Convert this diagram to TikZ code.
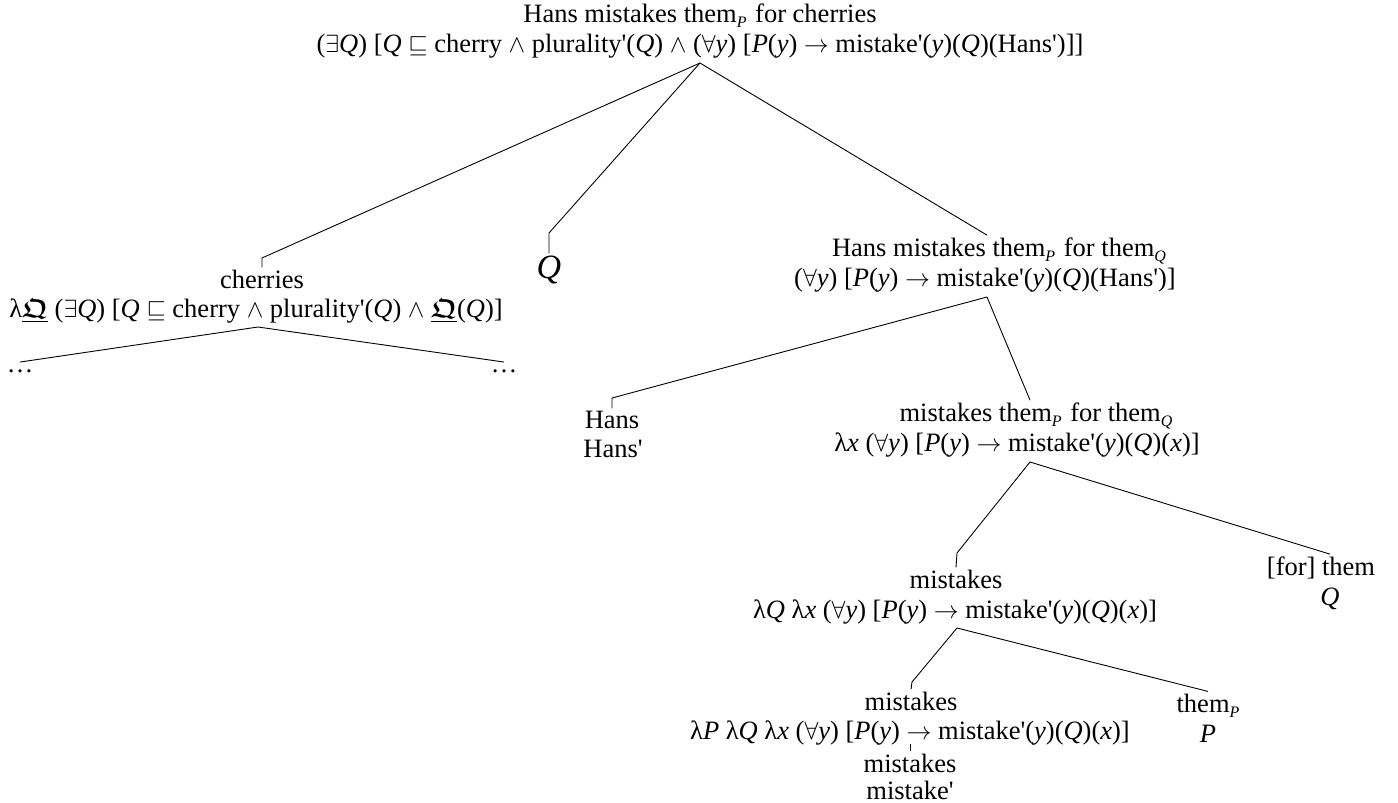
\documentclass[tikz,border=0pt]{standalone}
\usepackage{amsmath,amssymb}
\usepackage{fontspec}
\setmainfont{Liberation Serif}
\newcommand\iv[1]{\textit{#1}}
\newcommand\pr{\textquotesingle}
\newcommand\sub[1]{\raisebox{-5.5pt}{\fontsize{16}{16}\selectfont\itshape #1}\hspace{2pt}}
\newcommand\bigQ{\underline{$\boldsymbol{\mathfrak{Q}}$}}
\tikzset{
  line/.style={inner xsep=0pt, inner ysep=2pt, anchor=base, font=\fontsize{26.5}{30}\selectfont},
  bigline/.style={line, font=\fontsize{34}{38}\selectfont},
  edge/.style={draw=black, line width=0.9pt}
}
\begin{document}
\begin{tikzpicture}[x=1pt, y=-1pt]
\useasboundingbox (0,0) rectangle (1398,803);

% root
\node[line] (root1) at (700,22) {Hans mistakes them\sub{P} for cherries};
\node[line] (root2) at (700,52) {($\exists$\iv{Q}) [\iv{Q} $\sqsubseteq$ cherry $\wedge$ plurality\pr(\iv{Q}) $\wedge$ ($\forall$\iv{y}) [\iv{P}(\iv{y}) $\rightarrow$ mistake\pr(\iv{y})(\iv{Q})(Hans\pr)]]};
\coordinate (rootA) at (700,63);

% cherries
\node[line] (cher1) at (262,288) {cherries};
\node[line] (cher2) at (256,317) {λ\bigQ\ ($\exists$\iv{Q}) [\iv{Q} $\sqsubseteq$ cherry $\wedge$ plurality\pr(\iv{Q}) $\wedge$ \bigQ(\iv{Q})]};
\coordinate (cherA) at (258,327);
\node[line] (dotsL) at (20,372) {\dots};
\node[line] (dotsR) at (504,372) {\dots};

% Q
\node[bigline] (qv) at (549,278) {\iv{Q}};

% Hans mistakes them for them
\node[line] (hmt1) at (999,256) {Hans mistakes them\sub{P} for them\sub{Q}};
\node[line] (hmt2) at (985,286) {($\forall$\iv{y}) [\iv{P}(\iv{y}) $\rightarrow$ mistake\pr(\iv{y})(\iv{Q})(Hans\pr)]};
\coordinate (hmtA) at (987,297);

\node[line] (hans1) at (612,428) {Hans};
\node[line] (hans2) at (613,457) {Hans\pr};

\node[line] (mt1) at (1036,421) {mistakes them\sub{P} for them\sub{Q}};
\node[line] (mt2) at (1017,451) {λ\iv{x} ($\forall$\iv{y}) [\iv{P}(\iv{y}) $\rightarrow$ mistake\pr(\iv{y})(\iv{Q})(\iv{x})]};
\coordinate (mtA) at (1030,462);

\node[line] (mq1) at (956,588) {mistakes};
\node[line] (mq2) at (955,618) {λ\iv{Q} λ\iv{x} ($\forall$\iv{y}) [\iv{P}(\iv{y}) $\rightarrow$ mistake\pr(\iv{y})(\iv{Q})(\iv{x})]};
\coordinate (mqA) at (957,628);

\node[line] (ft1) at (1321,575) {[for] them};
\node[line] (ft2) at (1330,605) {\iv{Q}};

\node[line] (mp1) at (911,710) {mistakes};
\node[line] (mp2) at (910,739) {λ\iv{P} λ\iv{Q} λ\iv{x} ($\forall$\iv{y}) [\iv{P}(\iv{y}) $\rightarrow$ mistake\pr(\iv{y})(\iv{Q})(\iv{x})]};
\coordinate (mpA) at (910,744);

\node[line] (tp1) at (1208,712) {them\sub{P}};
\node[line] (tp2) at (1208,742) {\iv{P}};

\node[line] (lf1) at (910,772) {mistakes};
\node[line] (lf2) at (910,799) {mistake\pr};

% branches
\draw[edge] (rootA) -- (262,258) -- (cher1.north);
\draw[edge] (rootA) -- (549,233) -- (qv.north);
\draw[edge] (rootA) -- (hmt1.north -| hmtA);
\draw[edge] (cherA) -- ([yshift=5pt]dotsL.north);
\draw[edge] (cherA) -- ([yshift=5pt]dotsR.north);
\draw[edge] (hmtA) -- (612,398) -- (hans1.north);
\draw[edge] (hmtA) -- (mt1.north -| mtA);
\draw[edge] (mtA) -- (957,553) -- (mq1.north);
\draw[edge] (mtA) -- (ft1.north -| ft2);
\draw[edge] (mqA) -- (912,682) -- (mp1.north);
\draw[edge] (mqA) -- (tp1.north);
\draw[edge] (mpA) -- (lf1.north);
\end{tikzpicture}
\end{document}
